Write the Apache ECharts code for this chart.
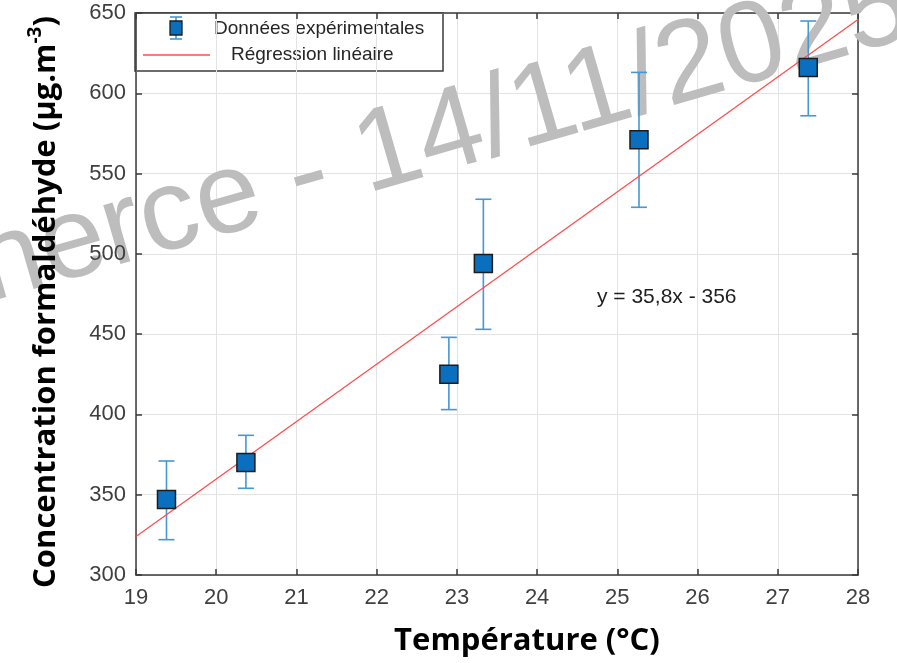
<!DOCTYPE html>
<html>
<head>
<meta charset="utf-8">
<script src="https://cdn.jsdelivr.net/npm/echarts@6/dist/echarts.min.js"></script>
<style>
  html, body { margin: 0; padding: 0; background: #fff; }
  #chart { width: 897px; height: 663px; }
</style>
</head>
<body>
<div id="chart"></div>
<script>
// mesures (température en °C, concentration en µg/m3)
const temperatures = [19.38, 20.37, 22.9, 23.33, 25.27, 27.38];
const concentrations = [347, 370, 425, 494, 571, 616];
const errLow = [322, 354, 403, 453, 529, 586];
const errHigh = [371, 387, 448, 534, 613, 645];

// droite de régression, lue aux bords du graphe
const fitX = [19, 28];
const fitY = [324, 646];

const xRange = [19, 28];
const yRange = [300, 650];

const BAR_COLOR = '#4597d6';
const AXIS_COLOR = '#3a3a3a';
const tickFont = { color: '#3f3f3f', fontSize: 22, fontFamily: 'Liberation Sans Narrow, Liberation Sans, Arial' };

const myChart = echarts.init(document.getElementById('chart'));

function renderErrorBar(params, api) {
  const x = api.value(0);
  const lo = api.coord([x, api.value(1)]);
  const hi = api.coord([x, api.value(2)]);
  const hw = 8;
  const style = { stroke: BAR_COLOR, lineWidth: 1.6 };
  return {
    type: 'group',
    children: [
      { type: 'line', shape: { x1: lo[0], y1: lo[1], x2: hi[0], y2: hi[1] }, style },
      { type: 'line', shape: { x1: lo[0] - hw, y1: lo[1], x2: lo[0] + hw, y2: lo[1] }, style },
      { type: 'line', shape: { x1: hi[0] - hw, y1: hi[1], x2: hi[0] + hw, y2: hi[1] }, style }
    ]
  };
}

// axe "cadre" (ligne, graduations, grille) ou axe "étiquettes" seules, dessiné au-dessus du filigrane
function makeAxis(kind, pos, part) {
  const isX = kind === 'x';
  const frame = part === 'frame';
  return {
    type: 'value',
    position: pos,
    min: isX ? xRange[0] : yRange[0],
    max: isX ? xRange[1] : yRange[1],
    interval: isX ? 1 : 50,
    z: frame ? 0 : 10,
    axisLine: { show: frame, onZero: false, lineStyle: { color: AXIS_COLOR, width: 1.5 } },
    axisTick: { show: frame, inside: true, length: 6, lineStyle: { color: AXIS_COLOR, width: 1.5 } },
    axisLabel: Object.assign({ show: part === 'labels', margin: isX ? 12 : 10 }, tickFont),
    splitLine: { show: frame && (pos === 'bottom' || pos === 'left'), lineStyle: { color: '#e3e3e3', width: 1 } }
  };
}

const option = {
  backgroundColor: '#fff',
  animation: false,
  grid: { left: 136, right: 39, top: 13, bottom: 88 },
  xAxis: [makeAxis('x', 'bottom', 'frame'), makeAxis('x', 'top', 'frame'), makeAxis('x', 'bottom', 'labels')],
  yAxis: [makeAxis('y', 'left', 'frame'), makeAxis('y', 'right', 'frame'), makeAxis('y', 'left', 'labels')],
  series: [
    {
      name: 'Données expérimentales',
      type: 'custom',
      renderItem: renderErrorBar,
      encode: { x: 0, y: [1, 2] },
      data: temperatures.map((t, i) => [t, errLow[i], errHigh[i]]),
      z: 2
    },
    {
      name: 'Régression linéaire',
      type: 'line',
      data: fitX.map((x, i) => [x, fitY[i]]),
      symbol: 'none',
      lineStyle: { color: '#ff4d4d', width: 1.3 },
      z: 3
    },
    {
      name: 'Données expérimentales',
      type: 'scatter',
      data: temperatures.map((t, i) => [t, concentrations[i]]),
      symbol: 'rect',
      symbolSize: 18,
      itemStyle: { color: '#0a6fbe', borderColor: '#1c1c1c', borderWidth: 1.5, opacity: 1 },
      z: 4
    }
  ],
  graphic: [
    // filigrane, sous les séries
    {
      type: 'text', z: 1, x: -4, y: 327, rotation: 0.28,
      style: { text: 'nerce - 14/11/2025', fontSize: 116, fontFamily: 'Liberation Sans, Arial', fill: '#bdbdbd', verticalAlign: 'bottom' }
    },
    // légende
    {
      type: 'group',
      z: 40,
      children: [
        { type: 'rect', shape: { x: 135, y: 13, width: 308, height: 58 }, style: { fill: '#fff', stroke: '#3c3c3c', lineWidth: 1.5 } },
        { type: 'line', shape: { x1: 176, y1: 17, x2: 176, y2: 39 }, style: { stroke: BAR_COLOR, lineWidth: 1.6 } },
        { type: 'line', shape: { x1: 170, y1: 17, x2: 182, y2: 17 }, style: { stroke: BAR_COLOR, lineWidth: 1.6 } },
        { type: 'line', shape: { x1: 170, y1: 39, x2: 182, y2: 39 }, style: { stroke: BAR_COLOR, lineWidth: 1.6 } },
        { type: 'rect', shape: { x: 170, y: 21, width: 12, height: 14 }, style: { fill: '#0a6fbe', stroke: '#1c1c1c', lineWidth: 1.3 } },
        { type: 'text', x: 214, y: 29, style: { text: 'Données expérimentales', fontSize: 19, fontFamily: 'Liberation Sans, Arial', fill: '#262626', verticalAlign: 'middle' } },
        { type: 'line', shape: { x1: 143, y1: 55, x2: 210, y2: 55 }, style: { stroke: '#ff4d4d', lineWidth: 1.3 } },
        { type: 'text', x: 231, y: 55, style: { text: 'Régression linéaire', fontSize: 19, fontFamily: 'Liberation Sans, Arial', fill: '#262626', verticalAlign: 'middle' } }
      ]
    },
    // équation
    {
      type: 'text', z: 30, x: 597, y: 297,
      style: { text: 'y = 35,8x - 356', fontSize: 21, fontFamily: 'Liberation Sans, Arial', fill: '#1e1e1e', verticalAlign: 'middle' }
    },
    // titres des axes
    {
      type: 'text', z: 100, x: 527, y: 641,
      style: { text: 'Température (°C)', fontSize: 31, fontWeight: 'bold', fontFamily: 'Open Sans', fill: '#000', align: 'center', verticalAlign: 'middle' }
    },
    {
      type: 'text', z: 100, x: 46, y: 302, rotation: Math.PI / 2,
      style: {
        text: '{n|Concentration formaldéhyde (µg.m}{s|-3}{n|)}',
        align: 'center',
        verticalAlign: 'middle',
        fill: '#000',
        rich: {
          n: { fontSize: 31, fontWeight: 'bold', fontFamily: 'Open Sans', fill: '#000', lineHeight: 40 },
          s: { fontSize: 19, fontWeight: 'bold', fontFamily: 'Open Sans', fill: '#000', verticalAlign: 'top', lineHeight: 26 }
        }
      }
    }
  ]
};

option && myChart.setOption(option);
</script>
</body>
</html>
